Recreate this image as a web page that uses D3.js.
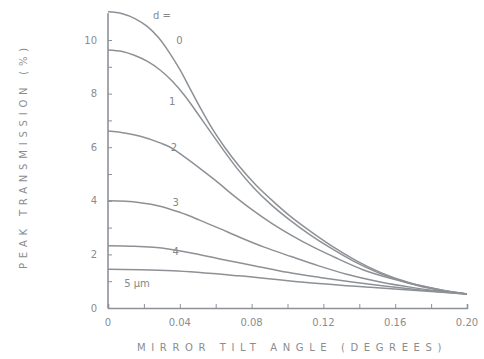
<!DOCTYPE html>
<html lang="en">
<head>
  <meta charset="UTF-8" />
  <title>Peak transmission vs mirror tilt</title>
  <script src="https://d3js.org/d3.v7.min.js"></script>
  <style>
    body {
      margin: 0;
      background: #fff;
      overflow: hidden;
    }
    svg {
      width: 484px;
      height: 359px;
      font-family: "DejaVu Sans", sans-serif;
    }
  </style>
</head>
<body>

<svg id="chart"></svg>

<script>
// values: [tilt angle (deg), peak transmission (%)]
const curveD0 = [[0,11.05],[0.008,10.98],[0.015,10.8],[0.022,10.5],[0.028,10.1],[0.034,9.55],[0.04,8.9],
  [0.046,8.15],[0.052,7.4],[0.058,6.7],[0.065,6.0],[0.073,5.3],[0.082,4.62],[0.092,3.98],[0.102,3.4],
  [0.113,2.85],[0.125,2.3],[0.138,1.78],[0.152,1.32],[0.168,0.94],[0.185,0.68],[0.2,0.52]];
const curveD1 = [[0,9.63],[0.008,9.57],[0.015,9.42],[0.022,9.2],[0.029,8.88],[0.036,8.45],[0.043,7.9],
  [0.05,7.25],[0.057,6.58],[0.064,5.92],[0.072,5.2],[0.081,4.5],[0.091,3.85],[0.101,3.3],
  [0.112,2.76],[0.124,2.24],[0.137,1.74],[0.151,1.3],[0.167,0.93],[0.184,0.67],[0.2,0.52]];
const curveD2 = [[0,6.6],[0.01,6.52],[0.018,6.41],[0.029,6.16],[0.036,5.95],[0.043,5.62],[0.051,5.22],
  [0.06,4.75],[0.069,4.25],[0.08,3.68],[0.091,3.17],[0.102,2.72],[0.115,2.25],[0.128,1.84],
  [0.142,1.43],[0.16,1.06],[0.179,0.76],[0.2,0.52]];
const curveD3 = [[0,4.0],[0.01,3.98],[0.018,3.93],[0.029,3.8],[0.04,3.57],[0.051,3.28],[0.062,2.97],
  [0.073,2.65],[0.087,2.27],[0.102,1.92],[0.117,1.58],[0.133,1.26],[0.151,0.98],[0.17,0.76],[0.2,0.52]];
const curveD4 = [[0,2.32],[0.015,2.3],[0.027,2.26],[0.045,2.07],[0.063,1.82],[0.082,1.57],[0.1,1.33],
  [0.118,1.14],[0.137,0.96],[0.155,0.81],[0.173,0.68],[0.2,0.52]];
const curveD5 = [[0,1.45],[0.018,1.43],[0.036,1.39],[0.073,1.2],[0.109,0.96],[0.146,0.77],[0.182,0.61],[0.2,0.52]];

const curves = [curveD0, curveD1, curveD2, curveD3, curveD4, curveD5];

const curveLabels = [
  {text: "d =", x: 0.025, y: 10.9},
  {text: "0", x: 0.038, y: 10.0},
  {text: "1", x: 0.034, y: 7.7},
  {text: "2", x: 0.035, y: 6.0},
  {text: "3", x: 0.036, y: 3.95},
  {text: "4", x: 0.036, y: 2.1},
  {text: "5 \u00b5m", x: 0.009, y: 0.9}
];

const xTickValues = [0, 0.04, 0.08, 0.12, 0.16, 0.20];
const xTickLabels = ["0", "0.04", "0.08", "0.12", "0.16", "0.20"];
const yTickValues = [0, 2, 4, 6, 8, 10];

const svg = d3.select("#chart");
const ink = "#8d9196";

const x = d3.scaleLinear().domain([0, 0.2]).range([108, 467]);
const y = d3.scaleLinear().domain([0, 10]).range([308, 40]);

// axes
const xAxis = d3.axisBottom(x)
  .tickValues(d3.range(0, 0.2001, 0.02))
  .tickSize(-4)
  .tickFormat("");
const yAxis = d3.axisLeft(y)
  .tickValues(d3.range(0, 11, 1))
  .tickSize(-4)
  .tickFormat("");

const gx = svg.append("g").attr("transform", `translate(0,${y(0)})`).call(xAxis);
const gy = svg.append("g").attr("transform", `translate(${x(0)},0)`).call(yAxis);
gy.select(".domain").attr("d", `M0,${y(0)}V${y(11)}`);
[gx, gy].forEach(g => {
  g.select(".domain").attr("stroke", ink).attr("stroke-width", 1.6);
  g.selectAll(".tick line").attr("stroke", ink).attr("stroke-width", 1);
});

// tick labels
svg.append("g").selectAll("text")
  .data(xTickValues)
  .join("text")
  .attr("x", d => x(d))
  .attr("y", 326)
  .attr("text-anchor", "middle")
  .attr("font-size", 10)
  .attr("fill", "#8a8d90")
  .text((d, i) => xTickLabels[i]);

svg.append("g").selectAll("text")
  .data(yTickValues)
  .join("text")
  .attr("x", 97)
  .attr("y", d => y(d))
  .attr("dy", "0.35em")
  .attr("text-anchor", "end")
  .attr("font-size", 10)
  .attr("fill", "#8a8d90")
  .text(d => d);

// curves
const line = d3.line()
  .x(d => x(d[0]))
  .y(d => y(d[1]))
  .curve(d3.curveMonotoneX);

svg.append("g").selectAll("path")
  .data(curves)
  .join("path")
  .attr("d", line)
  .attr("fill", "none")
  .attr("stroke", ink)
  .attr("stroke-width", 1.5);

// curve labels
svg.append("g").selectAll("text")
  .data(curveLabels)
  .join("text")
  .attr("x", d => x(d.x))
  .attr("y", d => y(d.y))
  .attr("dy", "0.35em")
  .attr("font-size", 10)
  .attr("fill", "#85888c")
  .text(d => d.text);

// axis titles
svg.append("text")
  .attr("transform", "translate(27,156) rotate(-90)")
  .attr("text-anchor", "middle")
  .attr("font-size", 10)
  .attr("letter-spacing", 4.8)
  .attr("fill", "#8a8d90")
  .text("PEAK TRANSMISSION (%)");

svg.append("text")
  .attr("x", 292)
  .attr("y", 351)
  .attr("text-anchor", "middle")
  .attr("font-size", 10)
  .attr("letter-spacing", 5.6)
  .attr("fill", "#8a8d90")
  .text("MIRROR TILT ANGLE (DEGREES)");
</script>

</body>
</html>
